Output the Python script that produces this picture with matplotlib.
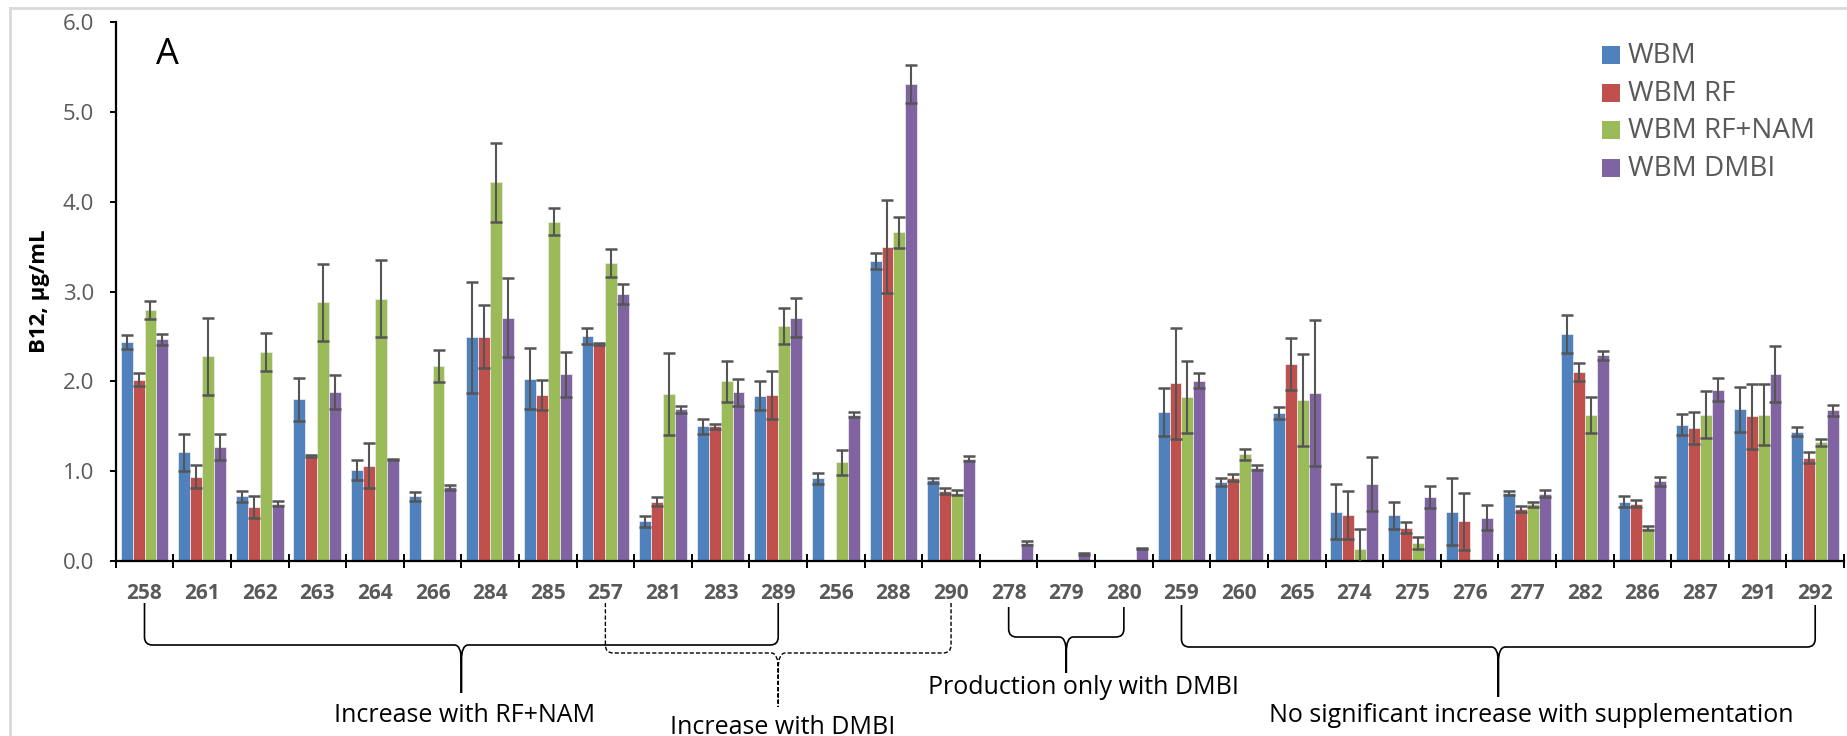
import numpy as np
import matplotlib
matplotlib.use("Agg")
import matplotlib.pyplot as plt
from matplotlib.path import Path
from matplotlib.patches import PathPatch, Rectangle
from matplotlib.lines import Line2D
from matplotlib.transforms import blended_transform_factory

plt.rcParams['font.family'] = ['Open Sans', 'DejaVu Sans']

# strain ids along the x axis
strains = ['258', '261', '262', '263', '264', '266', '284', '285', '257', '281',
           '283', '289', '256', '288', '290', '278', '279', '280', '259', '260',
           '265', '274', '275', '276', '277', '282', '286', '287', '291', '292']

series_names = ['WBM', 'WBM RF', 'WBM RF+NAM', 'WBM DMBI']
series_colors = ['#4F81BD', '#C0504D', '#9BBB59', '#8064A2']

# B12 (ug/mL)
wbm = [2.44, 1.21, 0.72, 1.80, 1.01, 0.72, 2.49, 2.03, 2.51, 0.44,
       1.50, 1.84, 0.92, 3.34, 0.90, 0, 0, 0, 1.66, 0.88,
       1.65, 0.55, 0.51, 0.55, 0.76, 2.53, 0.66, 1.52, 1.69, 1.44]
wbm_err = [0.08, 0.21, 0.06, 0.24, 0.11, 0.05, 0.62, 0.34, 0.09, 0.06,
           0.08, 0.16, 0.06, 0.09, 0.03, 0, 0, 0, 0.27, 0.04,
           0.07, 0.31, 0.15, 0.37, 0.02, 0.21, 0.06, 0.12, 0.25, 0.05]
wbm_rf = [2.02, 0.94, 0.60, 1.17, 1.06, 0, 2.50, 1.85, 2.42, 0.66,
          1.50, 1.85, 0, 3.50, 0.78, 0, 0, 0, 1.98, 0.93,
          2.19, 0.51, 0.37, 0.44, 0.58, 2.10, 0.64, 1.48, 1.61, 1.15]
wbm_rf_err = [0.07, 0.13, 0.12, 0.01, 0.25, 0, 0.35, 0.17, 0.01, 0.05,
              0.03, 0.27, 0, 0.52, 0.03, 0, 0, 0, 0.62, 0.04,
              0.29, 0.27, 0.06, 0.32, 0.03, 0.10, 0.04, 0.18, 0.36, 0.06]
wbm_rf_nam = [2.80, 2.28, 2.33, 2.88, 2.92, 2.17, 4.22, 3.78, 3.32, 1.86,
              2.00, 2.62, 1.10, 3.66, 0.76, 0, 0, 0, 1.83, 1.19,
              1.79, 0.13, 0.20, 0, 0.63, 1.63, 0.37, 1.63, 1.63, 1.32]
wbm_rf_nam_err = [0.10, 0.43, 0.21, 0.43, 0.43, 0.18, 0.44, 0.15, 0.16, 0.46,
                  0.23, 0.20, 0.14, 0.17, 0.03, 0, 0, 0, 0.40, 0.06,
                  0.51, 0.23, 0.07, 0, 0.03, 0.20, 0.02, 0.26, 0.34, 0.04]
wbm_dmbi = [2.47, 1.27, 0.64, 1.88, 1.13, 0.82, 2.71, 2.08, 2.97, 1.69,
            1.88, 2.71, 1.63, 5.31, 1.14, 0.20, 0.075, 0.14, 2.01, 1.04,
            1.87, 0.86, 0.71, 0.48, 0.75, 2.29, 0.89, 1.91, 2.08, 1.68]
wbm_dmbi_err = [0.06, 0.14, 0.03, 0.19, 0.01, 0.03, 0.44, 0.25, 0.11, 0.04,
                0.15, 0.22, 0.03, 0.21, 0.03, 0.02, 0.01, 0.01, 0.08, 0.03,
                0.81, 0.30, 0.12, 0.14, 0.04, 0.05, 0.05, 0.13, 0.31, 0.06]

# groups marked with braces below the axis: (first strain, last strain, text)
groups = [('258', '289', 'Increase with RF+NAM'),
          ('257', '290', 'Increase with DMBI'),
          ('278', '280', 'Production only with DMBI'),
          ('259', '292', 'No significant increase with supplementation')]

W, H = 1847, 736
fig = plt.figure(figsize=(W / 100, H / 100), dpi=100)


def fx(px):
    return px / W


def fy(px):
    return 1 - px / H


ax = fig.add_axes([fx(115.7), fy(561), fx(1844) - fx(115.7), fy(22.3) - fy(561)])

x = np.arange(len(strains))
bw = 0.207
values = [wbm, wbm_rf, wbm_rf_nam, wbm_dmbi]
errors = [wbm_err, wbm_rf_err, wbm_rf_nam_err, wbm_dmbi_err]
for k, (vals, errs) in enumerate(zip(values, errors)):
    xs = x + (k - 1.5) * bw
    ax.bar(xs, vals, width=bw, color=series_colors[k], edgecolor='#e8e8e8',
           linewidth=0.6, zorder=2)
    vals = np.array(vals)
    errs = np.array(errs)
    m = vals > 0
    ax.errorbar(xs[m], vals[m], yerr=errs[m], fmt='none', ecolor='#555555',
                elinewidth=1.5, capsize=4.2, capthick=1.8, zorder=3)

ax.set_xlim(-0.5, len(strains) - 0.5)
ax.set_ylim(0, 6)
ax.set_yticks(np.arange(0, 6.1, 1.0))
ax.set_yticklabels(['%.1f' % v for v in np.arange(0, 6.1, 1.0)])
ax.tick_params(axis='y', direction='out', length=4.5, width=1.4, pad=11,
               labelsize=16, labelcolor='#595959')

ax.set_xticks(np.arange(-0.5, len(strains)), labels=[''] * (len(strains) + 1))
ax.set_xticks(x, labels=strains, minor=True)
ax.tick_params(axis='x', which='major', direction='inout', length=10, width=1.4)
ax.tick_params(axis='x', which='minor', length=0, pad=16, labelsize=15,
               labelcolor='#595959')
for lab in ax.get_xticklabels(minor=True):
    lab.set_fontweight('bold')

for s in ['top', 'right']:
    ax.spines[s].set_visible(False)
for s in ['left', 'bottom']:
    ax.spines[s].set_color('black')
    ax.spines[s].set_linewidth(1.6)

fig.text(fx(40), fy(291), 'B12, µg/mL', rotation=90, ha='center', va='center',
         fontsize=16, fontweight='bold')
fig.text(fx(156), fy(64), 'A', fontsize=26, va='baseline', ha='left')

# legend, Excel style
for k, name in enumerate(series_names):
    yc = 55 + 37.7 * k
    fig.add_artist(Rectangle((fx(1602), fy(yc + 9)), fx(18), 18 / H,
                             facecolor=series_colors[k], edgecolor='none'))
    fig.text(fx(1628), fy(yc + 1), name, fontsize=20, color='#595959',
             ha='left', va='center')

# chart border (light grey)
fig.add_artist(Line2D([fx(10), 1], [fy(7.5), fy(7.5)], color='#d9d9d9', lw=2))
fig.add_artist(Line2D([fx(10), fx(10)], [fy(7.5), 0], color='#d9d9d9', lw=2))

# braces below the axis
trans = blended_transform_factory(ax.transData, fig.transFigure)
px = 1 / 57.6
brace_geom = [(603, 645, 693, '-'), (603, 653, 707, (0, (3, 1.5))),
              (607, 637, 673, '-'), (605, 647, 697, '-')]
text_pos = [(465, 715), (783, 727), (1083, 688), (1531, 715)]
for (s0, s1, label), (yt, yb, ytip, ls), (tx, ty) in zip(groups, brace_geom, text_pos):
    i0, i1 = strains.index(s0), strains.index(s1)
    xm = (i0 + i1) / 2
    verts, codes = [], []
    for xs, sg in ((i0, 1), (i1, -1)):
        verts += [(xs, fy(yt)), (xs, fy(yb - 8)), (xs, fy(yb)), (xs + sg * 8 * px, fy(yb)),
                  (xm - sg * 7 * px, fy(yb)), (xm, fy(yb)), (xm, fy(yb + 16)), (xm, fy(ytip))]
        codes += [Path.MOVETO, Path.LINETO, Path.CURVE3, Path.CURVE3,
                  Path.LINETO, Path.CURVE3, Path.CURVE3, Path.LINETO]
    fig.add_artist(PathPatch(Path(verts, codes), transform=trans, fill=False,
                             lw=1.2 if ls == '-' else 1.0, ec='black', ls=ls))
    fig.text(fx(tx), fy(ty), label, fontsize=18, ha='center', va='center')

fig.savefig('out.png', dpi=100)
